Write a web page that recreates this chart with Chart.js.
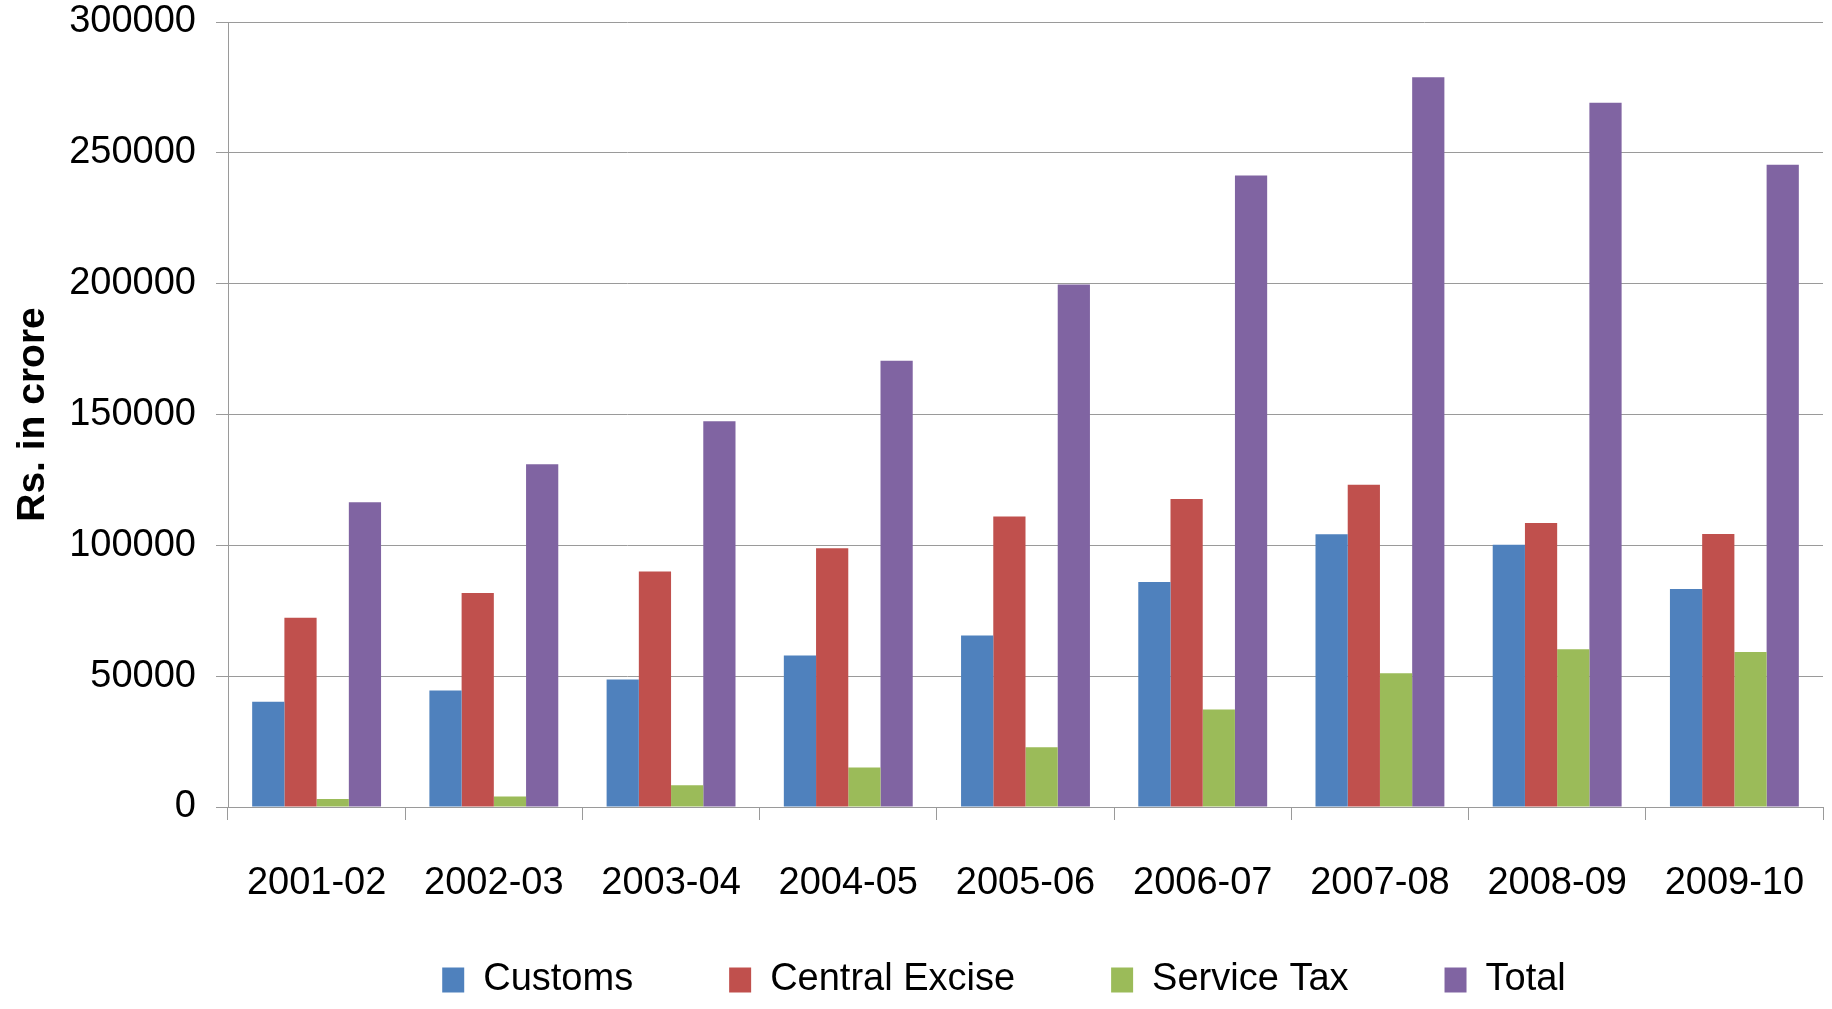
<!DOCTYPE html>
<html>
<head>
<meta charset="utf-8">
<title>Indirect tax collections</title>
<script src="https://cdn.jsdelivr.net/npm/chart.js@4.4.1/dist/chart.umd.min.js"></script>
<style>
    html, body { margin: 0; padding: 0; background: #fff; }
    #wrap { width: 1832px; height: 1009px; }
</style>
</head>
<body>
<div id="wrap"><canvas id="taxChart" width="1832" height="1009"></canvas></div>
<script>
// ------- values (Rs. in crore) -------
const years = ['2001-02', '2002-03', '2003-04', '2004-05', '2005-06', '2006-07', '2007-08', '2008-09', '2009-10'];
const customs = [40200, 44500, 48700, 57900, 65500, 86000, 104200, 100200, 83300];
const centralExcise = [72300, 81800, 90000, 98900, 111000, 117700, 123200, 108500, 104300];
const serviceTax = [3100, 4000, 8300, 15100, 22800, 37300, 51100, 60300, 59200];
const total = [116500, 131000, 147400, 170500, 199700, 241300, 278900, 269100, 245400];

const yTicks = [0, 50000, 100000, 150000, 200000, 250000, 300000];

const gridGrey = '#9a9a9a';
const fontFamily = '"Liberation Sans", Arial, sans-serif';

Chart.defaults.font.family = fontFamily;
Chart.defaults.color = '#000';

function makeSet(label, values, color) {
    return {
        label: label,
        data: values,
        backgroundColor: color,
        borderWidth: 0,
        categoryPercentage: 4 / 5.5, // excel gap width 150%
        barPercentage: 1.0
    };
}

// x labels hang below the (shortened) x axis box, so stop them being clipped,
// and nudge the legend a bit left like the original
const layoutTweaks = {
    id: 'layoutTweaks',
    afterLayout(chart) {
        const x = chart.scales.x;
        x.bottom = x.top + 110;
        chart.legend.right -= 43;
    }
};

const ctx = document.getElementById('taxChart');
const taxChart = new Chart(ctx, {
    type: 'bar',
    data: {
        labels: years,
        datasets: [
            makeSet('Customs', customs, '#4F81BD'),
            makeSet('Central Excise', centralExcise, '#C0504D'),
            makeSet('Service Tax', serviceTax, '#9BBB59'),
            makeSet('Total', total, '#8064A2')
        ]
    },
    plugins: [layoutTweaks],
    options: {
        responsive: false,
        animation: false,
        layout: {
            padding: { top: 0, right: 9, bottom: 0, left: 0 }
        },
        scales: {
            x: {
                grid: {
                    offset: true,
                    drawOnChartArea: false,
                    drawTicks: true,
                    tickLength: 13,
                    color: gridGrey
                },
                border: { display: true, color: gridGrey },
                ticks: {
                    font: { size: 38 },
                    padding: 41,
                    maxRotation: 0,
                    autoSkip: false
                },
                afterFit: scale => {
                    scale.height = 58;
                    scale.paddingLeft = 0;
                    scale.paddingRight = 0;
                }
            },
            y: {
                min: 0,
                max: 300000,
                afterBuildTicks: scale => {
                    scale.ticks = yTicks.map(v => ({ value: v }));
                },
                afterFit: scale => {
                    scale.width = 228;
                    scale.paddingTop = 22;
                },
                grid: {
                    color: gridGrey,
                    tickLength: 12
                },
                border: { display: true, color: gridGrey },
                ticks: {
                    font: { size: 38 },
                    padding: 20,
                    callback: v => String(v)
                },
                title: {
                    display: true,
                    text: 'Rs. in crore',
                    font: { size: 39, weight: 'bold', lineHeight: 1.2 },
                    padding: { top: 10, bottom: 0 }
                }
            }
        },
        plugins: {
            legend: {
                position: 'bottom',
                fullSize: false,
                labels: {
                    font: { size: 38 },
                    boxWidth: 22,
                    boxHeight: 25,
                    padding: 96
                }
            },
            tooltip: { enabled: false }
        }
    }
});
</script>
</body>
</html>
